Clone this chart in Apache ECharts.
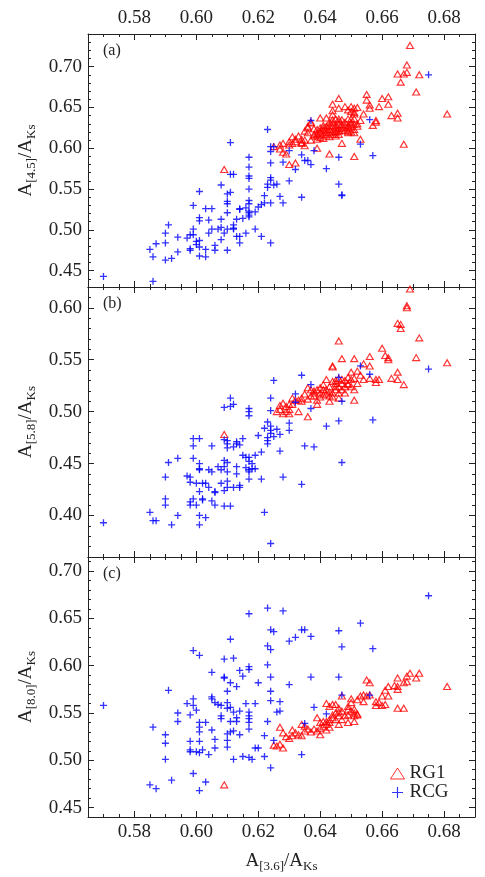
<!DOCTYPE html>
<html>
<head>
<meta charset="utf-8">
<style>html,body{margin:0;padding:0;background:#fff}#main{width:485px;height:877px}</style>
<script src="https://cdn.jsdelivr.net/npm/echarts@6/dist/echarts.min.js"></script>
</head>
<body>
<div id="main"></div>
<script>
// tick labels
var xTicks = [0.58, 0.60, 0.62, 0.64, 0.66, 0.68];
var yTicksA = [0.45, 0.50, 0.55, 0.60, 0.65, 0.70];
var yTicksB = [0.40, 0.45, 0.50, 0.55, 0.60];
var yTicksC = [0.45, 0.50, 0.55, 0.60, 0.65, 0.70];

// (a) A[4.5]/AKs vs A[3.6]/AKs
var rcgA = [[0.570,0.443],[0.586,0.437],[0.585,0.476],[0.587,0.483],[0.586,0.467],[0.590,0.463],[0.590,0.484],[0.590,0.496],[0.591,0.506],[0.592,0.465],[0.594,0.473],[0.594,0.491],[0.597,0.490],[0.598,0.494],[0.598,0.477],[0.598,0.475],[0.599,0.530],[0.599,0.501],[0.599,0.494],[0.600,0.486],[0.600,0.482],[0.601,0.547],[0.601,0.515],[0.601,0.511],[0.601,0.479],[0.601,0.468],[0.601,0.487],[0.603,0.526],[0.603,0.476],[0.603,0.467],[0.604,0.496],[0.604,0.512],[0.605,0.526],[0.605,0.501],[0.606,0.475],[0.606,0.481],[0.607,0.501],[0.608,0.488],[0.608,0.555],[0.608,0.513],[0.608,0.503],[0.609,0.496],[0.610,0.475],[0.610,0.535],[0.610,0.521],[0.610,0.501],[0.610,0.532],[0.610,0.544],[0.611,0.546],[0.611,0.607],[0.611,0.568],[0.612,0.568],[0.612,0.501],[0.612,0.506],[0.612,0.502],[0.613,0.513],[0.613,0.492],[0.614,0.526],[0.614,0.484],[0.614,0.525],[0.614,0.492],[0.615,0.514],[0.616,0.496],[0.616,0.527],[0.617,0.521],[0.617,0.589],[0.617,0.577],[0.617,0.566],[0.617,0.563],[0.617,0.550],[0.617,0.536],[0.617,0.532],[0.617,0.518],[0.617,0.516],[0.617,0.523],[0.619,0.501],[0.619,0.522],[0.620,0.528],[0.621,0.531],[0.621,0.492],[0.622,0.542],[0.622,0.533],[0.623,0.623],[0.623,0.552],[0.623,0.556],[0.624,0.561],[0.624,0.564],[0.624,0.582],[0.624,0.533],[0.624,0.484],[0.624,0.596],[0.624,0.602],[0.625,0.602],[0.625,0.555],[0.626,0.556],[0.627,0.541],[0.628,0.533],[0.628,0.583],[0.630,0.560],[0.630,0.597],[0.632,0.574],[0.634,0.540],[0.634,0.592],[0.635,0.585],[0.636,0.585],[0.637,0.580],[0.637,0.634],[0.638,0.597],[0.642,0.575],[0.646,0.589],[0.646,0.556],[0.647,0.542],[0.647,0.543],[0.653,0.605],[0.656,0.635],[0.657,0.591],[0.675,0.690]];
var rg1A = [[0.669,0.726],[0.668,0.702],[0.665,0.691],[0.667,0.691],[0.668,0.693],[0.672,0.690],[0.666,0.681],[0.671,0.669],[0.681,0.642],[0.665,0.643],[0.665,0.637],[0.663,0.640],[0.667,0.605],[0.609,0.574],[0.655,0.666],[0.655,0.659],[0.656,0.653],[0.660,0.661],[0.662,0.663],[0.662,0.654],[0.659,0.651],[0.646,0.661],[0.644,0.654],[0.644,0.646],[0.644,0.641],[0.646,0.649],[0.648,0.651],[0.650,0.651],[0.650,0.645],[0.651,0.649],[0.652,0.650],[0.651,0.644],[0.649,0.647],[0.651,0.642],[0.654,0.642],[0.656,0.649],[0.658,0.634],[0.658,0.632],[0.657,0.628],[0.640,0.637],[0.642,0.637],[0.643,0.632],[0.644,0.635],[0.645,0.636],[0.646,0.636],[0.647,0.635],[0.649,0.636],[0.650,0.636],[0.651,0.636],[0.653,0.634],[0.637,0.632],[0.636,0.627],[0.636,0.619],[0.638,0.624],[0.639,0.623],[0.640,0.625],[0.641,0.628],[0.642,0.627],[0.643,0.628],[0.644,0.627],[0.645,0.628],[0.646,0.629],[0.647,0.629],[0.649,0.628],[0.650,0.630],[0.651,0.629],[0.652,0.630],[0.640,0.619],[0.639,0.615],[0.641,0.617],[0.642,0.619],[0.643,0.619],[0.644,0.621],[0.645,0.621],[0.646,0.621],[0.647,0.622],[0.649,0.621],[0.651,0.623],[0.651,0.619],[0.638,0.615],[0.639,0.611],[0.640,0.613],[0.642,0.615],[0.643,0.614],[0.645,0.615],[0.646,0.617],[0.649,0.619],[0.647,0.606],[0.653,0.611],[0.643,0.593],[0.651,0.590],[0.630,0.580],[0.632,0.582],[0.625,0.602],[0.627,0.604],[0.628,0.606],[0.628,0.595],[0.629,0.593],[0.627,0.599],[0.630,0.608],[0.630,0.604],[0.631,0.614],[0.632,0.608],[0.633,0.615],[0.634,0.611],[0.634,0.607],[0.635,0.610],[0.635,0.603],[0.636,0.625],[0.635,0.621],[0.634,0.606],[0.637,0.610],[0.637,0.631],[0.638,0.617],[0.631,0.606],[0.632,0.611],[0.639,0.600],[0.641,0.622],[0.643,0.623],[0.645,0.625],[0.647,0.625],[0.649,0.625],[0.644,0.631],[0.646,0.633],[0.648,0.632],[0.650,0.632],[0.652,0.627],[0.640,0.621],[0.641,0.612],[0.642,0.623],[0.644,0.617],[0.645,0.619],[0.646,0.624],[0.648,0.627],[0.648,0.622],[0.650,0.627],[0.650,0.620],[0.639,0.618],[0.641,0.625]];

// (b) A[5.8]/AKs vs A[3.6]/AKs
var rcgB = [[0.570,0.393],[0.585,0.403],[0.586,0.395],[0.587,0.395],[0.590,0.410],[0.590,0.416],[0.590,0.437],[0.591,0.451],[0.592,0.391],[0.594,0.455],[0.594,0.400],[0.597,0.438],[0.598,0.437],[0.598,0.432],[0.598,0.413],[0.598,0.410],[0.599,0.455],[0.599,0.474],[0.599,0.467],[0.599,0.416],[0.600,0.410],[0.600,0.431],[0.601,0.391],[0.601,0.474],[0.601,0.450],[0.601,0.445],[0.601,0.444],[0.601,0.423],[0.601,0.400],[0.602,0.431],[0.602,0.415],[0.602,0.416],[0.603,0.431],[0.603,0.398],[0.604,0.427],[0.604,0.444],[0.605,0.467],[0.605,0.442],[0.605,0.414],[0.606,0.423],[0.606,0.410],[0.606,0.422],[0.607,0.447],[0.608,0.431],[0.608,0.444],[0.609,0.473],[0.609,0.453],[0.609,0.447],[0.609,0.424],[0.609,0.504],[0.609,0.409],[0.610,0.427],[0.610,0.469],[0.610,0.472],[0.610,0.451],[0.610,0.433],[0.610,0.465],[0.610,0.442],[0.611,0.505],[0.611,0.513],[0.612,0.507],[0.611,0.409],[0.612,0.427],[0.612,0.466],[0.613,0.447],[0.613,0.440],[0.613,0.471],[0.613,0.469],[0.614,0.427],[0.614,0.429],[0.614,0.468],[0.615,0.474],[0.615,0.458],[0.616,0.446],[0.616,0.456],[0.617,0.456],[0.617,0.442],[0.617,0.435],[0.617,0.503],[0.617,0.500],[0.617,0.496],[0.617,0.444],[0.617,0.452],[0.618,0.450],[0.618,0.445],[0.619,0.445],[0.619,0.458],[0.620,0.477],[0.621,0.461],[0.621,0.435],[0.622,0.403],[0.622,0.484],[0.623,0.490],[0.623,0.475],[0.623,0.469],[0.623,0.472],[0.624,0.501],[0.624,0.513],[0.624,0.486],[0.624,0.482],[0.624,0.373],[0.624,0.479],[0.625,0.530],[0.625,0.476],[0.626,0.483],[0.627,0.478],[0.627,0.462],[0.628,0.437],[0.630,0.482],[0.630,0.489],[0.632,0.517],[0.632,0.509],[0.634,0.430],[0.634,0.535],[0.635,0.467],[0.637,0.503],[0.637,0.526],[0.638,0.466],[0.642,0.486],[0.646,0.533],[0.646,0.491],[0.647,0.451],[0.647,0.510],[0.653,0.544],[0.656,0.536],[0.657,0.492],[0.675,0.541]];
var rg1B = [[0.669,0.618],[0.668,0.602],[0.668,0.600],[0.665,0.585],[0.666,0.584],[0.666,0.580],[0.672,0.571],[0.671,0.552],[0.681,0.547],[0.660,0.561],[0.661,0.554],[0.662,0.552],[0.662,0.550],[0.665,0.538],[0.663,0.532],[0.665,0.531],[0.667,0.526],[0.646,0.568],[0.644,0.544],[0.644,0.543],[0.647,0.551],[0.651,0.551],[0.656,0.553],[0.654,0.546],[0.656,0.544],[0.654,0.531],[0.656,0.532],[0.658,0.531],[0.659,0.531],[0.658,0.528],[0.652,0.539],[0.653,0.535],[0.652,0.527],[0.651,0.521],[0.651,0.511],[0.650,0.538],[0.649,0.533],[0.650,0.531],[0.647,0.531],[0.646,0.524],[0.647,0.521],[0.649,0.526],[0.645,0.527],[0.644,0.529],[0.643,0.524],[0.642,0.531],[0.641,0.526],[0.640,0.523],[0.639,0.521],[0.638,0.518],[0.637,0.521],[0.640,0.518],[0.641,0.516],[0.642,0.521],[0.643,0.515],[0.644,0.518],[0.645,0.521],[0.646,0.518],[0.648,0.518],[0.646,0.513],[0.643,0.510],[0.639,0.507],[0.639,0.511],[0.638,0.515],[0.637,0.515],[0.636,0.523],[0.636,0.512],[0.634,0.513],[0.634,0.510],[0.633,0.511],[0.632,0.511],[0.631,0.513],[0.631,0.507],[0.630,0.507],[0.630,0.502],[0.629,0.505],[0.629,0.500],[0.628,0.498],[0.628,0.508],[0.627,0.506],[0.627,0.502],[0.626,0.500],[0.630,0.498],[0.633,0.500],[0.636,0.495],[0.609,0.478],[0.645,0.524],[0.646,0.532],[0.649,0.527],[0.650,0.524],[0.647,0.527],[0.643,0.519],[0.641,0.521],[0.651,0.532],[0.640,0.514],[0.642,0.517],[0.644,0.514],[0.645,0.530],[0.648,0.524],[0.648,0.530],[0.638,0.520],[0.635,0.517]];

// (c) A[8.0]/AKs vs A[3.6]/AKs
var rcgC = [[0.570,0.558],[0.585,0.474],[0.586,0.535],[0.587,0.470],[0.590,0.518],[0.590,0.501],[0.590,0.527],[0.591,0.574],[0.592,0.479],[0.594,0.550],[0.594,0.541],[0.597,0.560],[0.598,0.548],[0.598,0.520],[0.598,0.511],[0.598,0.509],[0.599,0.565],[0.599,0.558],[0.599,0.616],[0.599,0.486],[0.600,0.509],[0.600,0.553],[0.601,0.468],[0.601,0.611],[0.601,0.540],[0.601,0.535],[0.601,0.530],[0.601,0.520],[0.601,0.508],[0.602,0.511],[0.603,0.540],[0.603,0.477],[0.604,0.506],[0.605,0.567],[0.605,0.593],[0.605,0.565],[0.605,0.532],[0.606,0.561],[0.606,0.522],[0.606,0.513],[0.607,0.559],[0.608,0.558],[0.608,0.547],[0.608,0.544],[0.609,0.588],[0.609,0.607],[0.609,0.587],[0.610,0.521],[0.610,0.514],[0.610,0.573],[0.610,0.528],[0.610,0.555],[0.610,0.561],[0.611,0.541],[0.611,0.530],[0.611,0.628],[0.611,0.556],[0.611,0.582],[0.612,0.608],[0.612,0.501],[0.612,0.551],[0.612,0.531],[0.613,0.545],[0.613,0.541],[0.613,0.578],[0.614,0.552],[0.614,0.527],[0.614,0.595],[0.615,0.589],[0.615,0.504],[0.616,0.560],[0.617,0.655],[0.617,0.544],[0.617,0.547],[0.617,0.599],[0.617,0.533],[0.617,0.596],[0.617,0.540],[0.617,0.503],[0.617,0.551],[0.618,0.501],[0.619,0.560],[0.619,0.513],[0.620,0.513],[0.620,0.582],[0.622,0.526],[0.622,0.504],[0.623,0.601],[0.623,0.661],[0.623,0.541],[0.623,0.621],[0.624,0.617],[0.624,0.588],[0.624,0.573],[0.624,0.563],[0.624,0.492],[0.624,0.638],[0.625,0.636],[0.625,0.521],[0.626,0.551],[0.627,0.562],[0.627,0.552],[0.628,0.658],[0.630,0.580],[0.630,0.626],[0.632,0.630],[0.634,0.506],[0.634,0.638],[0.635,0.539],[0.635,0.638],[0.637,0.588],[0.637,0.631],[0.638,0.556],[0.642,0.549],[0.646,0.637],[0.646,0.588],[0.647,0.620],[0.647,0.569],[0.653,0.645],[0.656,0.569],[0.657,0.618],[0.675,0.674]];
var rg1C = [[0.609,0.474],[0.681,0.578],[0.672,0.592],[0.671,0.587],[0.669,0.592],[0.668,0.589],[0.668,0.583],[0.667,0.582],[0.665,0.578],[0.665,0.575],[0.665,0.587],[0.664,0.579],[0.662,0.578],[0.661,0.574],[0.662,0.568],[0.660,0.568],[0.659,0.561],[0.658,0.558],[0.658,0.562],[0.660,0.558],[0.661,0.559],[0.667,0.555],[0.665,0.555],[0.655,0.585],[0.656,0.582],[0.654,0.569],[0.656,0.569],[0.655,0.568],[0.654,0.562],[0.653,0.568],[0.652,0.549],[0.652,0.564],[0.650,0.565],[0.650,0.561],[0.649,0.557],[0.647,0.568],[0.646,0.555],[0.645,0.559],[0.644,0.559],[0.643,0.557],[0.642,0.560],[0.651,0.554],[0.651,0.550],[0.651,0.547],[0.650,0.552],[0.649,0.554],[0.649,0.548],[0.648,0.547],[0.647,0.552],[0.647,0.543],[0.646,0.547],[0.645,0.543],[0.644,0.548],[0.644,0.545],[0.643,0.540],[0.643,0.543],[0.642,0.541],[0.642,0.538],[0.641,0.541],[0.641,0.536],[0.640,0.540],[0.640,0.534],[0.639,0.531],[0.639,0.545],[0.638,0.533],[0.637,0.530],[0.635,0.536],[0.635,0.531],[0.634,0.526],[0.633,0.527],[0.632,0.529],[0.631,0.526],[0.630,0.523],[0.629,0.525],[0.628,0.529],[0.628,0.513],[0.627,0.517],[0.626,0.515],[0.625,0.516],[0.627,0.535],[0.631,0.532],[0.634,0.538],[0.636,0.533],[0.640,0.527],[0.642,0.532],[0.643,0.535],[0.646,0.538],[0.649,0.540],[0.651,0.541],[0.652,0.548],[0.645,0.550],[0.646,0.551]];

var FONT = 'Liberation Serif';
var INK = '#222';
var RED = '#ff0000';
var BLUE = '#0000ff';
var PLUS = 'path://M5,0L5,10M0,5L10,5';

var panels = [
  {tag: '(a)', top: 34, height: 253, min: 0.43, max: 0.74, ticks: yTicksA, name: 'A{s|[4.5]}/A{s|Ks}', rg1: rg1A, rcg: rcgA},
  {tag: '(b)', top: 287, height: 270, min: 0.36, max: 0.62, ticks: yTicksB, name: 'A{s|[5.8]}/A{s|Ks}', rg1: rg1B, rcg: rcgB},
  {tag: '(c)', top: 557, height: 260, min: 0.44, max: 0.715, ticks: yTicksC, name: 'A{s|[8.0]}/A{s|Ks}', rg1: rg1C, rcg: rcgC}
];

var nameStyle = {
  fontFamily: FONT, fontSize: 19, color: INK,
  rich: {s: {fontFamily: FONT, fontSize: 13, color: INK, padding: [10, 0, 0, 0]}}
};

function majorAxis(gi, pos, min, max, ticks, showLabel) {
  return {
    type: 'value', gridIndex: gi, position: pos, min: min, max: max,
    axisLine: {show: true, onZero: false, lineStyle: {color: INK, width: 1}},
    axisTick: {show: true, inside: true, length: 6, customValues: ticks, lineStyle: {color: INK}},
    axisLabel: {show: showLabel, customValues: ticks, margin: 6, fontFamily: FONT, fontSize: 19, color: INK,
      formatter: function (v) { return v.toFixed(2); }},
    splitLine: {show: false}
  };
}
function minorAxis(gi, pos, min, max, step) {
  return {
    type: 'value', gridIndex: gi, position: pos, min: min, max: max, interval: step,
    axisLine: {show: false, onZero: false},
    axisTick: {show: true, inside: true, length: 3, lineStyle: {color: INK}},
    axisLabel: {show: false},
    splitLine: {show: false}
  };
}

var grids = [], xAxes = [], yAxes = [], series = [], graphics = [];
panels.forEach(function (p, i) {
  grids.push({left: 88, right: 10, top: p.top, height: p.height});
  var xi = xAxes.length, yi = yAxes.length;
  var bottom = majorAxis(i, 'bottom', 0.565, 0.69, xTicks, i === 2);
  if (i === 2) {
    bottom.name = 'A{s|[3.6]}/A{s|Ks}';
    bottom.nameLocation = 'middle';
    bottom.nameGap = 33;
    bottom.nameTextStyle = nameStyle;
  }
  xAxes.push(bottom);
  xAxes.push(majorAxis(i, 'top', 0.565, 0.69, xTicks, i === 0));
  xAxes.push(minorAxis(i, 'bottom', 0.565, 0.69, 0.005));
  xAxes.push(minorAxis(i, 'top', 0.565, 0.69, 0.005));
  var left = majorAxis(i, 'left', p.min, p.max, p.ticks, true);
  left.name = p.name;
  left.nameLocation = 'middle';
  left.nameRotate = 90;
  left.nameGap = 50;
  left.nameTextStyle = nameStyle;
  yAxes.push(left);
  yAxes.push(majorAxis(i, 'right', p.min, p.max, p.ticks, false));
  yAxes.push(minorAxis(i, 'left', p.min, p.max, 0.01));
  yAxes.push(minorAxis(i, 'right', p.min, p.max, 0.01));

  series.push({
    name: 'RG1', type: 'scatter', xAxisIndex: xi, yAxisIndex: yi, data: p.rg1,
    symbol: 'triangle', symbolSize: [7, 6],
    itemStyle: {color: 'transparent', borderColor: RED, borderWidth: 1.15}
  });
  series.push({
    name: 'RCG', type: 'scatter', xAxisIndex: xi, yAxisIndex: yi, data: p.rcg,
    symbol: PLUS, symbolSize: 7,
    itemStyle: {color: 'transparent', borderColor: BLUE, borderWidth: 1.3}
  });
  graphics.push({
    type: 'text', left: 103, top: p.top + 9,
    style: {text: p.tag, fontFamily: FONT, fontSize: 16, fill: INK}
  });
});

var chart = echarts.init(document.getElementById('main'));
chart.setOption({
  animation: false,
  grid: grids,
  xAxis: xAxes,
  yAxis: yAxes,
  series: series,
  graphic: graphics,
  legend: {
    left: 390, top: 764, orient: 'vertical', padding: 0, itemGap: 0,
    itemWidth: 14, itemHeight: 11,
    textStyle: {fontFamily: FONT, fontSize: 19, color: INK},
    data: [
      {name: 'RG1', icon: 'triangle', itemStyle: {color: 'transparent', borderColor: RED, borderWidth: 1}},
      {name: 'RCG', icon: PLUS, itemStyle: {color: 'transparent', borderColor: BLUE, borderWidth: 1.2}}
    ]
  }
});
</script>
</body>
</html>
